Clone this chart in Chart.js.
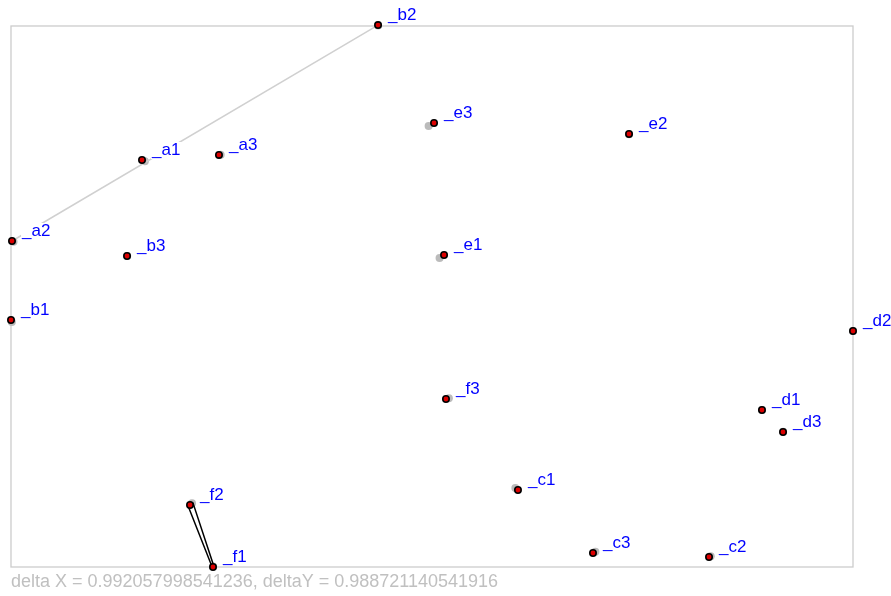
<!DOCTYPE html>
<html><head><meta charset="utf-8">
<script src="https://cdn.jsdelivr.net/npm/chart.js@4"></script>
<style>html,body{margin:0;padding:0;background:#fff}#wrap{width:891px;height:596px}</style>
</head><body><div id="wrap"><canvas id="c" width="891" height="596"></canvas></div>
<script>
const names = ["_a1","_a2","_a3","_b1","_b2","_b3","_c1","_c2","_c3","_d1","_d2","_d3","_e1","_e2","_e3","_f1","_f2","_f3"];
const xs = [15.56,0.12,24.70,0,43.59,13.78,60.21,82.90,69.12,89.19,100,91.69,51.43,73.40,50.24,23.99,21.26,51.66];
const ys = [75.23,60.26,76.16,45.66,100.18,57.49,14.23,1.85,2.59,29.02,43.62,24.95,57.67,80.04,82.07,0,11.46,31.05];
const shadowXs = [15.9,0.3,24.9,0.1,43.6,13.8,59.9,83.1,69.4,89.2,100,91.7,50.9,73.4,49.6,24.0,21.5,52.0];
const shadowYs = [75.0,60.1,76.2,45.3,100.1,57.5,14.6,2.0,2.8,29.0,43.6,25.0,57.1,80.0,81.5,0.1,11.8,31.2];
const deltaText = "delta X = 0.992057998541236, deltaY = 0.988721140541916";
const grayLine = ["_a2","_b2"];
const blackLine = ["_f2","_f1"];

const pts = names.map((n,i)=>({x:xs[i],y:ys[i],n}));
const shadow = names.map((n,i)=>({x:shadowXs[i],y:shadowYs[i]}));
const idx = n => names.indexOf(n);

const labelPlugin = {
  id:'labels',
  beforeDatasetsDraw(chart){
    const {ctx, chartArea:a} = chart;
    ctx.save();
    ctx.strokeStyle = '#cccccc'; ctx.lineWidth = 1.3;
    ctx.strokeRect(a.left, a.top, a.right-a.left, a.bottom-a.top);
    ctx.restore();
  },
  afterDatasetsDraw(chart){
    const {ctx} = chart;
    const meta = chart.getDatasetMeta(3);
    ctx.save();
    ctx.font = '17px "Liberation Sans", Arial, sans-serif';
    ctx.textBaseline = 'alphabetic';
    meta.data.forEach((el,i)=>{
      const t = names[i];
      const w = ctx.measureText(t).width;
      const x = el.x + 10, y = el.y - 5;
      ctx.fillStyle = '#ffffff';
      ctx.fillRect(x-1, y-13, w+4, 17);
      ctx.fillStyle = '#0000ff';
      ctx.fillText(t, x, y);
    });
    ctx.font = '18px "Liberation Sans", Arial, sans-serif';
    ctx.fillStyle = '#c0c0c0';
    ctx.fillText(deltaText, 11, 587);
    ctx.restore();
  }
};

new Chart(document.getElementById('c'), {
  type:'scatter',
  data:{datasets:[
    {data:shadow, pointRadius:4, pointBackgroundColor:'#bbbbbb', pointBorderWidth:0, clip:false, order:4},
    {type:'line', data:[pts[idx(grayLine[0])], pts[idx(grayLine[1])]], borderColor:'#d0d0d0', borderWidth:1.5, pointRadius:0, clip:false, order:3},
    {type:'line', data:[{x:xs[idx(blackLine[0])]-0.25,y:ys[idx(blackLine[0])]-0.1},{x:xs[idx(blackLine[1])]-0.1,y:ys[idx(blackLine[1])]},{x:xs[idx(blackLine[1])]+0.1,y:ys[idx(blackLine[1])]+0.15},{x:shadowXs[idx(blackLine[0])]+0.1,y:shadowYs[idx(blackLine[0])]+0.1}], borderColor:'#000000', borderWidth:1.5, pointRadius:0, clip:false, order:2},
    {data:pts, pointRadius:3.2, pointBackgroundColor:'#dd0000', pointBorderColor:'#000000', pointBorderWidth:1.6, clip:false, order:1}
  ]},
  options:{
    responsive:false, animation:false, devicePixelRatio:1,
    layout:{padding:{left:11,right:38,top:26,bottom:29}},
    plugins:{legend:{display:false}, tooltip:{enabled:false}},
    scales:{
      x:{type:'linear', min:0, max:100, display:false},
      y:{type:'linear', min:0, max:100, display:false}
    }
  },
  plugins:[labelPlugin]
});
</script></body></html>
